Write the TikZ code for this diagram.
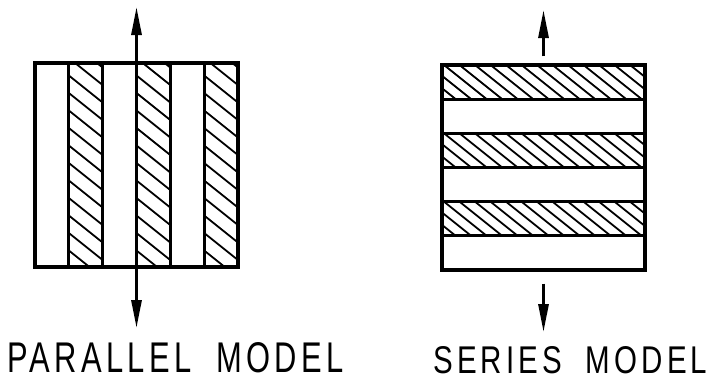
\documentclass[tikz,border=0pt]{standalone}
\usepackage{fontspec}
\setmainfont{Liberation Sans}[LetterSpace=14]
\usetikzlibrary{arrows.meta}
\begin{document}
\begin{tikzpicture}[x=1pt,y=-1pt,
  frame/.style={draw, line width=3.4pt, inner sep=0pt, minimum width=203pt, minimum height=204pt},
  divider/.style={line width=3.2pt},
  hatch/.style={line width=1.8pt},
  flow/.style={line width=3pt, -{Triangle[length=28pt,width=10pt]}},
  caption/.style={inner sep=0pt, anchor=north west}]
\useasboundingbox (0,0) rectangle (717,378);

% ---------- parallel model ----------
\foreach \a in {68.83,136.5,204.17}{
  \begin{scope}
    \clip (\a,63) rectangle ({\a+33.83},267);
    \foreach \k in {-40,-22.5,...,230}
      \draw[hatch] (\a,{63+\k}) -- ++(60,48);
  \end{scope}
}
\foreach \a in {68.83,102.67,136.5,170.33,204.17}
  \draw[divider] (\a,63) -- (\a,267);
\node[frame] (pbox) at (136.5,165) {};
\coordinate (ptop) at (136.5,7);
\coordinate (pbot) at (136.5,328);
\draw[flow] (pbox.north) -- (ptop);
\draw[flow] (pbox.south) -- (pbot);
\node[caption] (plabel) at (7,342) {\resizebox{336pt}{30pt}{PARALLEL\hspace{0.8em}MODEL}};

% ---------- series model ----------
\foreach \b in {65,133.33,201.67}{
  \begin{scope}
    \clip (442,\b) rectangle (645,{\b+34.17});
    \foreach \k in {-60,-44.5,...,220}
      \draw[hatch] ({442+\k},\b) -- ++(60,48);
  \end{scope}
}
\foreach \b in {99.17,133.33,167.5,201.67,235.83}
  \draw[divider] (442,\b) -- (645,\b);
\node[frame, minimum height=205pt] (sbox) at (543.5,167.5) {};
\coordinate (stop) at (543.5,10);
\coordinate (sbot) at (543.5,332);
\draw[flow, shorten <=7pt] (sbox.north) -- (stop);
\draw[flow, shorten <=12pt] (sbox.south) -- (sbot);
\node[caption] (slabel) at (433,346) {\resizebox{274pt}{27pt}{SERIES\hspace{0.8em}MODEL}};
\end{tikzpicture}
\end{document}
